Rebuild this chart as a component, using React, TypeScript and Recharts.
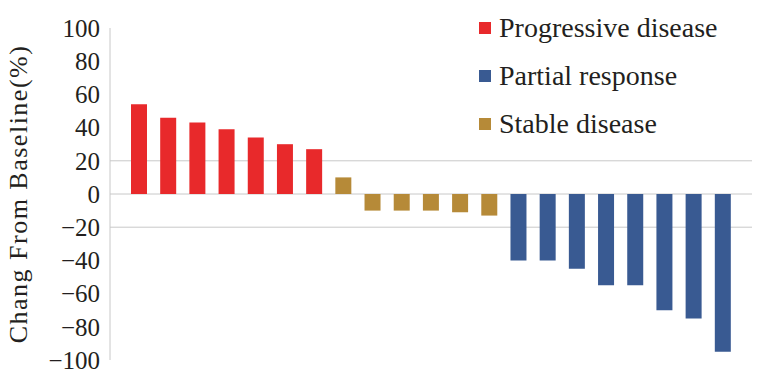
import React from 'react';
import { BarChart, Bar, Cell, XAxis, YAxis, CartesianGrid } from 'recharts';

const patients = ['1', '2', '3', '4', '5', '6', '7', '8', '9', '10', '11', '12', '13', '14', '15', '16', '17', '18', '19', '20', '21'];
const changes = [54, 46, 43, 39, 34, 30, 27, 10, -10, -10, -10, -11, -13, -40, -40, -45, -55, -55, -70, -75, -95];
const responses = ['PD', 'PD', 'PD', 'PD', 'PD', 'PD', 'PD', 'SD', 'SD', 'SD', 'SD', 'SD', 'SD', 'PR', 'PR', 'PR', 'PR', 'PR', 'PR', 'PR', 'PR'];
const yTicks = [100, 80, 60, 40, 20, 0, -20, -40, -60, -80, -100];
const legendItems = [
  { key: 'PD', label: 'Progressive disease' },
  { key: 'PR', label: 'Partial response' },
  { key: 'SD', label: 'Stable disease' },
];

const colors: Record<string, string> = { PD: '#E8292B', PR: '#395A92', SD: '#B68A38' };
const font = '"Times New Roman", "Liberation Serif", "DejaVu Serif", "Noto Serif", serif';
const ink = '#231F20';

const data = patients.map((p, i) => ({ patient: p, change: changes[i], response: responses[i] }));

// legend sits over the top right of the plot, it does not take space from it
function WaterfallLegend() {
  return (
    <div style={{ position: 'absolute', left: 479, top: 4, fontFamily: font, color: ink }}>
      {legendItems.map((item) => (
        <div key={item.key} style={{ display: 'flex', alignItems: 'center', height: 48, fontSize: 28 }}>
          <span style={{ width: 12, height: 12, background: colors[item.key], marginRight: 8, display: 'inline-block' }} />
          {item.label}
        </div>
      ))}
    </div>
  );
}

function YLabel({ viewBox }: any) {
  const cy = viewBox.y + viewBox.height / 2;
  return (
    <text
      x={27}
      y={cy}
      transform={`rotate(-90, 27, ${cy})`}
      textAnchor="middle"
      fontFamily={font}
      fontSize={26}
      letterSpacing={1.5}
      fill={ink}
    >
      Chang From Baseline(%)
    </text>
  );
}

const fmt = (v: number) => (v < 0 ? `\u2212${Math.abs(v)}` : `${v}`);

export default function App() {
  return (
    <div style={{ position: 'absolute', left: 0, top: 0, width: 782, height: 381, background: '#fff' }}>
      <BarChart width={782} height={381} data={data} margin={{ top: 28, right: 30, bottom: 21, left: 0 }}>
        <CartesianGrid vertical={false} horizontalValues={[20, 0, -20]} stroke="#C8C8C8" />
        <XAxis dataKey="patient" hide padding={{ left: 14, right: 15 }} />
        <YAxis
          width={110}
          domain={[-100, 100]}
          ticks={yTicks}
          interval={0}
          tickFormatter={fmt}
          tickLine={false}
          tickMargin={4}
          axisLine={{ stroke: '#C8C8C8' }}
          tick={{ fontFamily: font, fontSize: 25, fill: ink }}
          label={<YLabel />}
        />
        <Bar dataKey="change" barSize={16} isAnimationActive={false}>
          {data.map((d) => (
            <Cell key={d.patient} fill={colors[d.response]} />
          ))}
        </Bar>
      </BarChart>
      <WaterfallLegend />
    </div>
  );
}
